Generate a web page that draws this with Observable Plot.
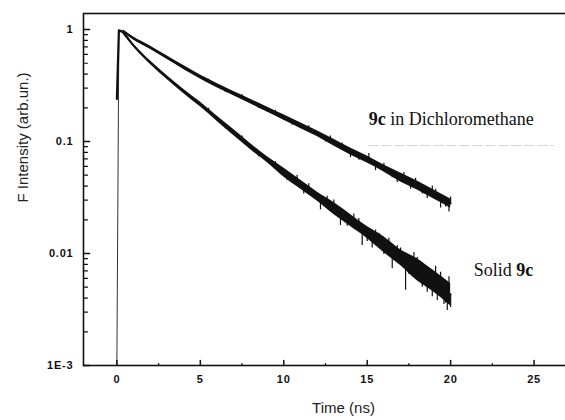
<!DOCTYPE html>
<html>
<head>
<meta charset="utf-8">
<script src="https://cdn.jsdelivr.net/npm/d3@7"></script>
<script src="https://cdn.jsdelivr.net/npm/@observablehq/plot@0.6"></script>
<style>
html, body { margin: 0; padding: 0; background: #fff; overflow: hidden; }
g[aria-label="y-axis tick label"] text, g[aria-label="x-axis tick label"] text { letter-spacing: 0.8px; }
g[aria-label="axis-title"] text { letter-spacing: 1px; }
</style>
</head>
<body>
<div id="chart"></div>
<script>
// ---- data ----
const tGrid = [0.4, 1, 2, 3, 4, 5, 6, 7, 8, 9, 10, 11, 12, 13, 14, 15, 16, 17, 18, 19, 20];

// 9c in Dichloromethane (centre, lower and upper edge of the noisy trace)
const dcmMid = [0.96, 0.831, 0.691, 0.562, 0.458, 0.378, 0.316, 0.268, 0.228, 0.193, 0.164, 0.139, 0.118, 0.098, 0.0814, 0.069, 0.0574, 0.0477, 0.0405, 0.0336, 0.0279];
const dcmLo  = [0.94, 0.806, 0.668, 0.542, 0.440, 0.362, 0.302, 0.256, 0.217, 0.183, 0.155, 0.131, 0.111, 0.091, 0.0757, 0.0642, 0.0534, 0.0435, 0.0369, 0.0306, 0.0254];
const dcmHi  = [0.99, 0.857, 0.714, 0.582, 0.476, 0.393, 0.330, 0.280, 0.239, 0.203, 0.173, 0.147, 0.125, 0.105, 0.0875, 0.0742, 0.0617, 0.0523, 0.0444, 0.0369, 0.0306];

// Solid 9c
const solidMid = [0.93, 0.720, 0.507, 0.373, 0.280, 0.214, 0.160, 0.120, 0.0902, 0.069, 0.0529, 0.0413, 0.0323, 0.0252, 0.0197, 0.0154, 0.0120, 0.0092, 0.0072, 0.0056, 0.0043];
const solidLo  = [0.90, 0.698, 0.490, 0.359, 0.268, 0.204, 0.152, 0.113, 0.0848, 0.0648, 0.0482, 0.0376, 0.0294, 0.0223, 0.0174, 0.0136, 0.0102, 0.0078, 0.0057, 0.0045, 0.0034];
const solidHi  = [0.96, 0.742, 0.525, 0.388, 0.293, 0.225, 0.169, 0.128, 0.096, 0.0734, 0.058, 0.0453, 0.0354, 0.0285, 0.0223, 0.0174, 0.0141, 0.0108, 0.0090, 0.0070, 0.0054];

// rising edge at t = 0
const riseT = [0, 0.12];
const dcmRise = [0.24, 0.98];
const solidRise = [0.001, 0.98];

// individual noise spikes (time, trace value, spike tip)
const dcmSpikeT    = [5.5, 6.5, 7.5, 8.5, 9.5, 10.5, 11.5, 12.5, 12.8, 13.5, 14.0, 14.5, 15.1, 15.5, 16.0, 16.5, 16.8, 17.2, 17.6, 17.9, 18.3, 18.6, 18.9, 19.1, 19.4, 19.7, 19.9, 20.0];
const dcmSpikeBase = [0.343, 0.291, 0.247, 0.21, 0.178, 0.151, 0.128, 0.108, 0.101, 0.0893, 0.0814, 0.075, 0.068, 0.063, 0.0574, 0.0523, 0.049, 0.046, 0.043, 0.0415, 0.0385, 0.036, 0.034, 0.0331, 0.031, 0.0296, 0.028, 0.028];
const dcmSpikeTip  = [0.36, 0.275, 0.262, 0.197, 0.19, 0.14, 0.138, 0.099, 0.112, 0.097, 0.072, 0.068, 0.078, 0.055, 0.064, 0.0475, 0.043, 0.053, 0.0375, 0.047, 0.034, 0.031, 0.040, 0.0375, 0.0255, 0.026, 0.0235, 0.032];

const solidSpikeT    = [5.5, 6.5, 7.5, 8.5, 9.5, 10.2, 10.8, 11.2, 11.5, 12.2, 12.6, 13.0, 13.4, 13.8, 14.2, 14.5, 14.7, 15.0, 15.3, 15.5, 15.7, 16.0, 16.3, 16.5, 16.8, 17.0, 17.3, 17.5, 17.8, 18.0, 18.3, 18.5, 18.6, 18.9, 19.1, 19.2, 19.4, 19.6, 19.7, 19.8, 19.9, 20.0];
const solidSpikeBase = [0.185, 0.1386, 0.104, 0.0789, 0.0604, 0.0507, 0.0445, 0.0393, 0.0365, 0.0307, 0.028, 0.0252, 0.0228, 0.0207, 0.0187, 0.0174, 0.0166, 0.0154, 0.0144, 0.0136, 0.013, 0.012, 0.0111, 0.0106, 0.0098, 0.0092, 0.0086, 0.0081, 0.0076, 0.0072, 0.0067, 0.0063, 0.0063, 0.0058, 0.0055, 0.0054, 0.0051, 0.0049, 0.0047, 0.0045, 0.0044, 0.0043];
const solidSpikeTip  = [0.198, 0.13, 0.112, 0.073, 0.066, 0.045, 0.05, 0.034, 0.042, 0.0245, 0.0325, 0.030, 0.0178, 0.0175, 0.0225, 0.0205, 0.0118, 0.0128, 0.0112, 0.0162, 0.0152, 0.0098, 0.0137, 0.0073, 0.0118, 0.0112, 0.0047, 0.0065, 0.0102, 0.0092, 0.0050, 0.0078, 0.0045, 0.0041, 0.0077, 0.0038, 0.0068, 0.0035, 0.0036, 0.0031, 0.0062, 0.0033];

// ticks
const yMajor = [1, 0.1, 0.01, 0.001];
const yLabels = ["1", "0.1", "0.01", "1E-3"];
const yMinor = [0.002, 0.003, 0.004, 0.005, 0.006, 0.007, 0.008, 0.009,
                0.02, 0.03, 0.04, 0.05, 0.06, 0.07, 0.08, 0.09,
                0.2, 0.3, 0.4, 0.5, 0.6, 0.7, 0.8, 0.9];
const xMajor = [0, 5, 10, 15, 20, 25];
const xMinor = [2.5, 7.5, 12.5, 17.5, 22.5];

// ---- build tables ----
const band = (mid, lo, hi) => tGrid.map((t, i) => ({t, mid: mid[i], lo: lo[i], hi: hi[i]}));
const dcm = band(dcmMid, dcmLo, dcmHi);
const solid = band(solidMid, solidLo, solidHi);
const rise = (vals) => riseT.map((t, i) => ({t, mid: vals[i]}));
const dcmLine = [rise(dcmRise)[1], ...dcm];
const solidLine = [rise(solidRise)[1], ...solid];
const spikes = (T, B, P) => T.map((t, i) => ({t, base: B[i], tip: P[i]}));
const dcmSp = spikes(dcmSpikeT, dcmSpikeBase, dcmSpikeTip);
const solidSp = spikes(solidSpikeT, solidSpikeBase, solidSpikeTip);

const tickShape = {draw(ctx, l) { ctx.moveTo(0, 0); ctx.lineTo(0, -l); }};
const ink = "#111";
const sans = "Liberation Sans, Arial, sans-serif";
const serif = "Liberation Serif, Times New Roman, serif";
const curve = "monotone-x";

const plot = Plot.plot({
  width: 603,
  height: 420,
  marginLeft: 83,
  marginRight: 0,
  marginTop: 13,
  marginBottom: 55,
  style: {maxWidth: "none", background: "#fff", color: ink},
  x: {domain: [-2, 29.16]},
  y: {type: "log", domain: [0.001, 1.39]},
  marks: [
    // faint ghost line under the upper label
    Plot.ruleY([0.092], {x1: 15.1, x2: 26.2, stroke: "#d4d4d4", strokeWidth: 1, strokeDasharray: "10,3"}),
    // rising edges
    Plot.line(rise(solidRise), {x: "t", y: "mid", stroke: "#333", strokeWidth: 1}),
    Plot.line(rise(dcmRise), {x: "t", y: "mid", stroke: ink, strokeWidth: 2.2}),
    // noisy bands
    Plot.areaY(dcm, {x: "t", y1: "lo", y2: "hi", fill: ink, curve}),
    Plot.areaY(solid, {x: "t", y1: "lo", y2: "hi", fill: ink, curve}),
    Plot.line(dcmLine, {x: "t", y: "mid", stroke: ink, strokeWidth: 1.8, curve}),
    Plot.line(solidLine, {x: "t", y: "mid", stroke: ink, strokeWidth: 1.8, curve}),
    Plot.ruleX(dcmSp, {x: "t", y1: "base", y2: "tip", stroke: ink, strokeWidth: 1.2}),
    Plot.ruleX(solidSp, {x: "t", y1: "base", y2: "tip", stroke: ink, strokeWidth: 1.2}),
    // frame
    Plot.frame({stroke: ink, strokeWidth: 1.6}),
    // inward ticks
    Plot.vector(yMajor, {y: d => d, frameAnchor: "left", rotate: 90, length: 6, anchor: "start", shape: tickShape, stroke: ink, strokeWidth: 1.5}),
    Plot.vector(yMinor, {y: d => d, frameAnchor: "left", rotate: 90, length: 4, anchor: "start", shape: tickShape, stroke: ink, strokeWidth: 1.2}),
    Plot.vector(xMajor, {x: d => d, frameAnchor: "bottom", rotate: 0, length: 5, anchor: "start", shape: tickShape, stroke: ink, strokeWidth: 1.5}),
    Plot.vector(xMinor, {x: d => d, frameAnchor: "bottom", rotate: 0, length: 2, anchor: "start", shape: tickShape, stroke: ink, strokeWidth: 1.2}),
    // tick labels
    Plot.axisY({ticks: yMajor, tickFormat: d => yLabels[yMajor.indexOf(d)], tickSize: 0, tickPadding: 10, label: null,
                fontFamily: sans, fontSize: 11, fontWeight: "bold", fill: ink}),
    Plot.axisX({ticks: xMajor, tickFormat: d => String(d), tickSize: 0, tickPadding: 10, label: null,
                fontFamily: sans, fontSize: 11, fontWeight: "bold", fill: ink}),
    // axis titles
    Plot.text(["Time (ns)"], {frameAnchor: "bottom", dy: 47, text: d => d, fontFamily: sans, fontSize: 15, fill: "#222", ariaLabel: "axis-title"}),
    Plot.text(["F Intensity (arb.un.)"], {frameAnchor: "left", rotate: -90, dx: -60, dy: 13, text: d => d, fontFamily: sans, fontSize: 15, fill: "#222", ariaLabel: "axis-title"}),
    // annotations
    Plot.text(["9c"], {x: 15.09, y: 0.157, text: d => d, textAnchor: "start", fontFamily: serif, fontSize: 18, fontWeight: "bold", fill: ink}),
    Plot.text(["in Dichloromethane"], {x: 15.09, y: 0.157, dx: 21.5, text: d => d, textAnchor: "start", fontFamily: serif, fontSize: 18, fill: ink}),
    Plot.text(["Solid"], {x: 21.38, y: 0.00705, text: d => d, textAnchor: "start", fontFamily: serif, fontSize: 18, fill: ink}),
    Plot.text(["9c"], {x: 21.38, y: 0.00705, dx: 42.5, text: d => d, textAnchor: "start", fontFamily: serif, fontSize: 18, fontWeight: "bold", fill: ink})
  ]
});
document.getElementById("chart").appendChild(plot);
</script>
</body>
</html>
